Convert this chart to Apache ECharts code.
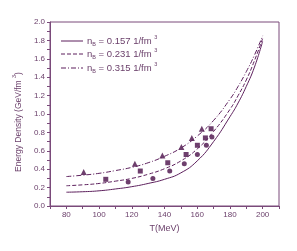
<!DOCTYPE html>
<html><head><meta charset="utf-8">
<script src="https://cdn.jsdelivr.net/npm/echarts@6/dist/echarts.min.js"></script>
<style>html,body{margin:0;padding:0;background:#fff}#c{width:297px;height:251px}</style>
</head><body><div id="c"></div>
<script>
var curveT = [80, 90, 100, 110, 120, 130, 140, 150, 160, 170, 180, 185, 190, 195, 200];
var curve157 = [0.15, 0.155, 0.165, 0.185, 0.21, 0.245, 0.29, 0.36, 0.49, 0.70, 0.97, 1.12, 1.30, 1.51, 1.79];
var curve231 = [0.22, 0.23, 0.245, 0.27, 0.30, 0.345, 0.405, 0.49, 0.62, 0.81, 1.05, 1.20, 1.37, 1.58, 1.82];
var curve315 = [0.32, 0.335, 0.355, 0.385, 0.42, 0.47, 0.54, 0.63, 0.76, 0.93, 1.16, 1.30, 1.46, 1.64, 1.85];
var triT = [90.6, 121.9, 138.7, 150.3, 156.7, 162.8];
var triE = [0.37, 0.46, 0.55, 0.64, 0.74, 0.84];
var sqT = [104.1, 125.2, 142.0, 153.2, 160.1, 165.0, 168.5];
var sqE = [0.29, 0.38, 0.47, 0.56, 0.66, 0.74, 0.84];
var ciT = [117.8, 132.9, 143.2, 152.1, 160.1, 165.6, 169.0];
var ciE = [0.26, 0.30, 0.38, 0.46, 0.56, 0.66, 0.75];
var legendNames = ['0.157', '0.231', '0.315'];
var legendDash = ['solid', [4, 2], [5, 2, 1, 2]];

function zip(a, b) { return a.map(function (v, i) { return [v, b[i]]; }); }
var lineCol = '#5c1f5c';
var axisCol = '#7a4a7a';
var txtCol = '#6a3f6a';
var ch = echarts.init(document.getElementById('c'));
function curve(name, data, type) {
  return { name: name, type: 'line', data: zip(curveT, data), smooth: true, symbol: 'none',
    lineStyle: { color: lineCol, width: 1, type: type }, itemStyle: { color: lineCol } };
}
function pts(name, t, e, sym, size) {
  return { name: name, type: 'scatter', data: zip(t, e), symbol: sym, symbolSize: size,
    itemStyle: { color: '#4a0f48' } };
}
var legRows = [41, 54, 68];
var graphics = [{ type: 'rect', shape: { x: 50, y: 22, width: 229, height: 184 }, style: { fill: 'none', stroke: axisCol, lineWidth: 1 }, silent: true }];
legendNames.forEach(function (n, i) {
  graphics.push({ type: 'line', shape: { x1: 61, y1: legRows[i], x2: 83, y2: legRows[i] },
    style: { stroke: lineCol, lineWidth: 1, lineDash: legendDash[i] === 'solid' ? null : legendDash[i] } });
  graphics.push({ type: 'text', x: 87, y: legRows[i], style: {
    text: 'n{s|B} = ' + n + ' 1/fm {p|3}', fill: txtCol, fontSize: 9.5, fontFamily: 'Liberation Sans',
    verticalAlign: 'middle',
    rich: { s: { fontSize: 5.5, fill: txtCol, padding: [6, 0, 0, 0] }, p: { fontSize: 5.5, fill: txtCol, padding: [0, 0, 7, 0] } } } });
});
ch.setOption({
  animation: false,
  grid: { left: 50, top: 22, right: 18, bottom: 45 },
  xAxis: {
    type: 'value', min: 70, max: 210, interval: 10,
    name: 'T(MeV)', nameLocation: 'middle', nameGap: 16,
    nameTextStyle: { color: txtCol, fontSize: 9, fontFamily: 'Liberation Sans' },
    axisLine: { lineStyle: { color: axisCol } },
    axisTick: { inside: false, length: 3, lineStyle: { color: axisCol } },
    axisLabel: { fontSize: 8, color: txtCol, margin: 5, fontFamily: 'Liberation Sans',
      formatter: function (v) { return (v % 20 === 0) ? String(v) : ''; } },
    splitLine: { show: false }
  },
  yAxis: {
    type: 'value', min: 0, max: 2, interval: 0.1,
    name: 'Energy Density (GeV/fm {p|3})', nameLocation: 'middle', nameGap: 22,
    nameTextStyle: { color: txtCol, fontSize: 8.5, fontFamily: 'Liberation Sans', padding: [0, 16, 0, 0],
      rich: { p: { fontSize: 5.5, color: txtCol, padding: [0, 0, 7, 0] } } },
    axisLine: { lineStyle: { color: axisCol } },
    axisTick: { inside: false, length: 3, lineStyle: { color: axisCol } },
    axisLabel: { fontSize: 8, color: txtCol, margin: 5, fontFamily: 'Liberation Sans',
      formatter: function (v) { var r = Math.round(v * 10); return (r % 2 === 0) ? (r / 10).toFixed(1) : ''; } },
    splitLine: { show: false }
  },
  graphic: graphics,
  series: [
    curve('0.157', curve157, 'solid'),
    curve('0.231', curve231, [4, 2]),
    curve('0.315', curve315, [5, 2, 1, 2]),
    pts('tri', triT, triE, 'triangle', 6),
    pts('sq', sqT, sqE, 'rect', 5),
    pts('ci', ciT, ciE, 'circle', 5)
  ]
});
</script></body></html>
